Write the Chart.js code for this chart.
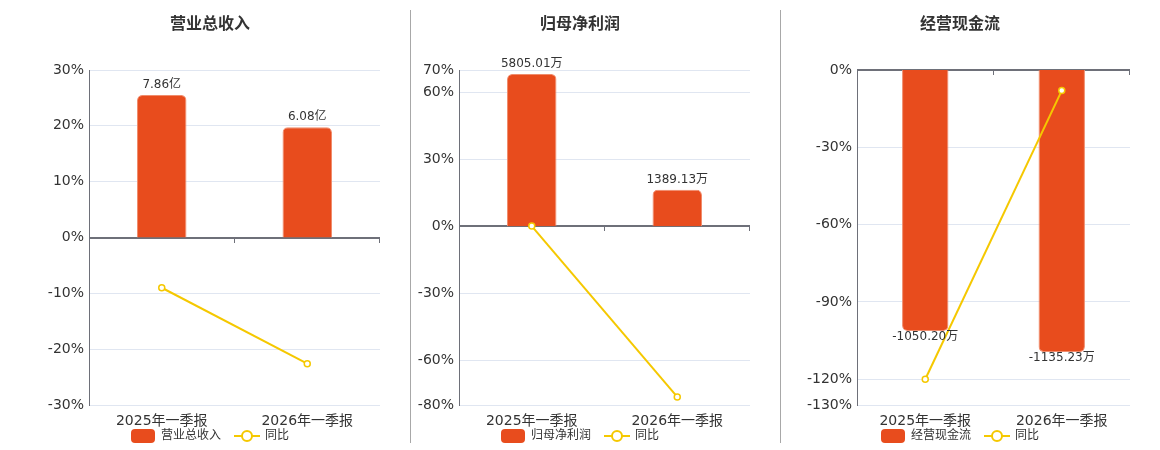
<!DOCTYPE html>
<html>
<head>
<meta charset="utf-8">
<script src="https://cdn.jsdelivr.net/npm/chart.js@4.4.1/dist/chart.umd.min.js"></script>
<style>
  html, body { margin: 0; padding: 0; background: #fff; }
  #wrap { position: relative; width: 1160px; height: 450px; overflow: hidden; }
  .panel { position: absolute; top: 0; width: 360px; height: 450px; }
  .panel h3 {
    position: absolute; top: 12px; left: 0; width: 100%; margin: 0;
    text-align: center; font: bold 16px/20px "Noto Sans CJK SC", sans-serif; color: #333;
  }
  .sep { position: absolute; top: 10px; width: 1px; height: 433px; background: #a8a8a8; }
</style>
</head>
<body>
<div id="wrap">
  <div class="panel" style="left:30px"><h3>营业总收入</h3><canvas id="c1"></canvas></div>
  <div class="panel" style="left:400px"><h3>归母净利润</h3><canvas id="c2"></canvas></div>
  <div class="panel" style="left:780px"><h3>经营现金流</h3><canvas id="c3"></canvas></div>
  <div class="sep" style="left:410px"></div>
  <div class="sep" style="left:780px"></div>
</div>
<script>
// 数据
const categories = ['2025年一季报', '2026年一季报'];

const revenueValues = [7.86, 6.08];          // 亿
const revenueLabels = ['7.86亿', '6.08亿'];
const revenueYoy = [-9.0, -22.6];
const revenueTicks = [30, 20, 10, 0, -10, -20, -30];

const profitValues = [5805.01, 1389.13];     // 万
const profitLabels = ['5805.01万', '1389.13万'];
const profitYoy = [0.1, -76.4];
const profitTicks = [70, 60, 30, 0, -30, -60, -80];

const cashValues = [-1050.20, -1135.23];     // 万
const cashLabels = ['-1050.20万', '-1135.23万'];
const cashYoy = [-120.0, -8.0];
const cashTicks = [0, -30, -60, -90, -120, -130];

const BAR_COLOR = '#e84c1d';
const LINE_COLOR = '#f5c800';
const AXIS_COLOR = '#6e7079';

Chart.defaults.font.family = '"DejaVu Sans", "Noto Sans CJK SC", sans-serif';
Chart.defaults.color = '#333';
Chart.defaults.animation = false;

// 图例图标
function barIcon() {
    const c = document.createElement('canvas');
    c.width = 24; c.height = 14;
    const g = c.getContext('2d');
    g.fillStyle = BAR_COLOR;
    g.beginPath();
    g.roundRect(0, 0, 24, 14, 4);
    g.fill();
    return c;
}
function lineIcon() {
    const c = document.createElement('canvas');
    c.width = 26; c.height = 14;
    const g = c.getContext('2d');
    g.strokeStyle = LINE_COLOR;
    g.lineWidth = 2;
    g.beginPath(); g.moveTo(0, 7); g.lineTo(26, 7); g.stroke();
    g.fillStyle = '#fff';
    g.beginPath(); g.arc(13, 7, 5, 0, Math.PI * 2); g.fill(); g.stroke();
    return c;
}
const icons = [barIcon(), lineIcon()];

// 零轴 + 刻度
const zeroAxis = {
    id: 'zeroAxis',
    beforeDatasetsDraw(chart) {
        const { ctx, chartArea, scales: { x, y } } = chart;
        const y0 = Math.round(y.getPixelForValue(0));
        ctx.save();
        ctx.strokeStyle = AXIS_COLOR;
        ctx.lineWidth = 2;
        ctx.beginPath();
        ctx.moveTo(chartArea.left, y0);
        ctx.lineTo(chartArea.right, y0);
        ctx.stroke();
        ctx.lineWidth = 1;
        ctx.beginPath();
        const n = x.ticks.length, w = chartArea.width / n;
        for (let i = 1; i <= n; i++) {
            const px = Math.round(chartArea.left + i * w) - 0.5;
            ctx.moveTo(px, y0);
            ctx.lineTo(px, y0 + 5);
        }
        ctx.stroke();
        ctx.restore();
    }
};

// 图例上移，贴近分类标签（只动上沿，避免裁切）
const legendShift = {
    id: 'legendShift',
    afterLayout(chart) {
        if (chart.legend) chart.legend.top -= 13;
    }
};

// 柱子数值标签
const barLabels = {
    id: 'barLabels',
    afterDatasetsDraw(chart, args, opts) {
        const { ctx } = chart;
        const meta = chart.getDatasetMeta(0);
        const vals = chart.data.datasets[0].data;
        ctx.save();
        ctx.font = '12px "DejaVu Sans", "Noto Sans CJK SC", sans-serif';
        ctx.fillStyle = '#333';
        ctx.textAlign = 'center';
        ctx.textBaseline = 'middle';
        meta.data.forEach((bar, i) => {
            const y = vals[i] >= 0 ? bar.y - 10 : bar.y + 6;
            ctx.fillText(opts.texts[i], bar.x, y);
        });
        ctx.restore();
    }
};

function buildPanel(id, name, values, texts, yoy, ticks, barMin, barMax, axisWidth) {
    new Chart(document.getElementById(id), {
        data: {
            labels: categories,
            datasets: [
                {
                    type: 'bar',
                    label: name,
                    data: values,
                    yAxisID: 'y1',
                    backgroundColor: BAR_COLOR,
                    borderColor: '#f08c6c',
                    borderWidth: 1,
                    borderRadius: 5,
                    borderSkipped: 'start',
                    barPercentage: 0.34,
                    categoryPercentage: 1,
                    order: 1
                },
                {
                    type: 'line',
                    label: '同比',
                    data: yoy,
                    yAxisID: 'y',
                    borderColor: LINE_COLOR,
                    borderWidth: 2,
                    pointRadius: 3,
                    pointBackgroundColor: '#fff',
                    pointBorderColor: LINE_COLOR,
                    pointBorderWidth: 1.5,
                    order: 0
                }
            ]
        },
        options: {
            responsive: true,
            maintainAspectRatio: false,
            layout: { padding: { top: 70, left: 10, right: 10, bottom: 0 } },
            scales: {
                x: {
                    grid: { display: false, drawTicks: false },
                    border: { display: false },
                    ticks: { font: { size: 14 }, color: '#333', padding: 8, maxRotation: 0 },
                    afterFit: s => { s.height = 24; }
                },
                y: {
                    min: ticks[ticks.length - 1],
                    max: ticks[0],
                    afterBuildTicks: s => { s.ticks = ticks.map(v => ({ value: v })); },
                    afterFit: s => { s.width = axisWidth; },
                    grid: { color: '#e0e6f1', drawTicks: false },
                    border: { display: true, color: AXIS_COLOR, width: 1 },
                    ticks: { font: { size: 14 }, color: '#333', padding: 5, callback: v => v + '%' }
                },
                y1: {
                    display: false,
                    min: barMin,
                    max: barMax
                }
            },
            plugins: {
                tooltip: { enabled: false },
                legend: {
                    position: 'bottom',
                    maxHeight: 21,
                    labels: {
                        usePointStyle: true,
                        pointStyleWidth: 24,
                        padding: 14,
                        font: { size: 12 },
                        color: '#333',
                        generateLabels(chart) {
                            const items = Chart.defaults.plugins.legend.labels.generateLabels(chart);
                            items.sort((a, b) => a.datasetIndex - b.datasetIndex);
                            items.forEach(it => { it.pointStyle = icons[it.datasetIndex]; });
                            return items;
                        }
                    }
                },
                barLabels: { texts: texts }
            }
        },
        plugins: [zeroAxis, barLabels, legendShift]
    });
}

buildPanel('c1', '营业总收入', revenueValues, revenueLabels, revenueYoy, revenueTicks, -9.24, 9.24, 49);
buildPanel('c2', '归母净利润', profitValues, profitLabels, profitYoy, profitTicks, -6810, 5957, 49);
buildPanel('c3', '经营现金流', cashValues, cashLabels, cashYoy, cashTicks, -1348, 0, 67);
</script>
</body>
</html>
